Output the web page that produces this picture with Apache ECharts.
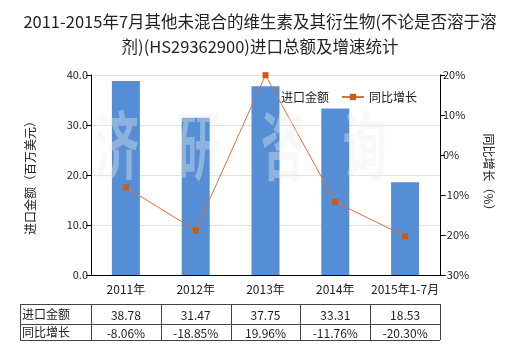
<!DOCTYPE html>
<html><head><meta charset="utf-8">
<script src="https://cdn.jsdelivr.net/npm/echarts@6/dist/echarts.min.js"></script>
<style>html,body{margin:0;padding:0;background:#fff}#c{width:520px;height:350px}</style>
</head><body><div id="c"></div>
<script>
var categories = ['2011年','2012年','2013年','2014年','2015年1-7月'];
var importValues = [38.78, 31.47, 37.75, 33.31, 18.53];
var growthValues = [-8.06, -18.85, 19.96, -11.76, -20.30];
var importLabels = ['38.78','31.47','37.75','33.31','18.53'];
var growthLabels = ['-8.06%','-18.85%','19.96%','-11.76%','-20.30%'];
var rowNames = ['进口金额','同比增长'];
var watermarkChars = ['济','研','咨','询'];

var FONT = '"Noto Sans CJK SC","Noto Sans",sans-serif';
var chart = echarts.init(document.getElementById('c'), null, {renderer:'canvas'});
var option = {
  backgroundColor:'#fff',
  animation:false,
  textStyle:{fontFamily:FONT},
  title:{
    text:'2011-2015年7月其他未混合的维生素及其衍生物(不论是否溶于溶\n剂)(HS29362900)进口总额及增速统计',
    left:'center', top:4,
    textStyle:{fontSize:16.5, fontWeight:'normal', color:'#222', lineHeight:25, fontFamily:FONT}
  },
  legend:{
    left:249, top:86, itemGap:12, itemWidth:22, itemHeight:8,
    textStyle:{fontSize:12,color:'#222',fontFamily:FONT},
    data:[{name:'进口金额',icon:'rect'},{name:'同比增长'}]
  },
  grid:{left:91, right:80, top:75, bottom:75},
  xAxis:{
    type:'category', data:categories,
    axisLine:{lineStyle:{color:'#000'}},
    axisTick:{show:false},
    axisLabel:{color:'#222', fontSize:12, margin:8, interval:0, fontFamily:FONT}
  },
  yAxis:[{
    type:'value', min:0, max:40, interval:10,
    name:'进口金额（百万美元）', nameLocation:'middle', nameGap:55, nameRotate:90,
    nameTextStyle:{fontSize:12,color:'#222',fontFamily:FONT},
    axisLine:{show:true,lineStyle:{color:'#000'}},
    axisTick:{show:true,length:5,lineStyle:{color:'#000'}},
    axisLabel:{color:'#222',fontSize:11,margin:3,formatter:function(v){return v.toFixed(1);}},
    splitLine:{lineStyle:{color:'#e2e2e2'}}
  },{
    type:'value', min:-30, max:20, interval:10,
    name:'同比增长（%）', nameLocation:'middle', nameGap:43, nameRotate:-90,
    nameTextStyle:{fontSize:12,color:'#222',fontFamily:FONT},
    axisLine:{show:true,lineStyle:{color:'#000'}},
    axisTick:{show:true,length:5,lineStyle:{color:'#000'}},
    axisLabel:{color:'#222',fontSize:11,margin:3,formatter:'{value}%'},
    splitLine:{show:false}
  }],
  series:[{
    name:'进口金额', type:'bar', data:importValues, barWidth:28, yAxisIndex:0,
    itemStyle:{color:'#558ED5'}, z:2
  },{
    name:'同比增长', type:'line', data:growthValues, yAxisIndex:1,
    symbol:'rect', symbolSize:6, showAllSymbol:true,
    lineStyle:{color:'#E0703A', width:1},
    itemStyle:{color:'#CC5A10'}, z:3
  }]
};
chart.setOption(option);

function buildGraphics(){
  var g = [];
  var xs = categories.map(function(c,i){ return chart.convertToPixel({xAxisIndex:0}, i); });
  var half = (xs[1]-xs[0])/2;
  var left = 20, top = 304, mid = 324, bottom = 340;
  var right = xs[xs.length-1]+half;
  var bc = '#444';
  [top, mid, bottom].forEach(function(y){
    g.push({type:'line', shape:{x1:left,y1:y+0.5,x2:right,y2:y+0.5}, style:{stroke:bc,lineWidth:1}, silent:true});
  });
  var vx = [left, xs[0]-half].concat(xs.map(function(x){return x+half;}));
  vx.forEach(function(x){
    g.push({type:'line', shape:{x1:Math.round(x)+0.5,y1:top,x2:Math.round(x)+0.5,y2:bottom}, style:{stroke:bc,lineWidth:1}, silent:true});
  });
  var rows = [[top,mid],[mid,bottom]];
  var rowData = [importLabels, growthLabels];
  rows.forEach(function(r, ri){
    var cy = (r[0]+r[1])/2;
    g.push({type:'text', x:left+2, y:cy, style:{text:rowNames[ri], fontSize:12, fill:'#222', fontFamily:FONT, verticalAlign:'middle', align:'left'}, silent:true});
    rowData[ri].forEach(function(t, ci){
      g.push({type:'text', x:xs[ci], y:cy+1, style:{text:t, fontSize:12, fill:'#222', fontFamily:FONT, verticalAlign:'middle', align:'center'}, silent:true});
    });
  });
  var wy = 146;
  var wxs = [117, 199, 283, 365];
  watermarkChars.forEach(function(ch, i){
    g.push({type:'text', x:wxs[i], y:wy, scaleY:1.7, z:10, style:{text:ch, fontSize:44, fontWeight:'bold', fill:'rgba(236,236,236,0.38)', fontFamily:FONT, align:'center', verticalAlign:'middle'}, silent:true});
  });
  chart.setOption({graphic:g});
}
buildGraphics();
</script></body></html>
